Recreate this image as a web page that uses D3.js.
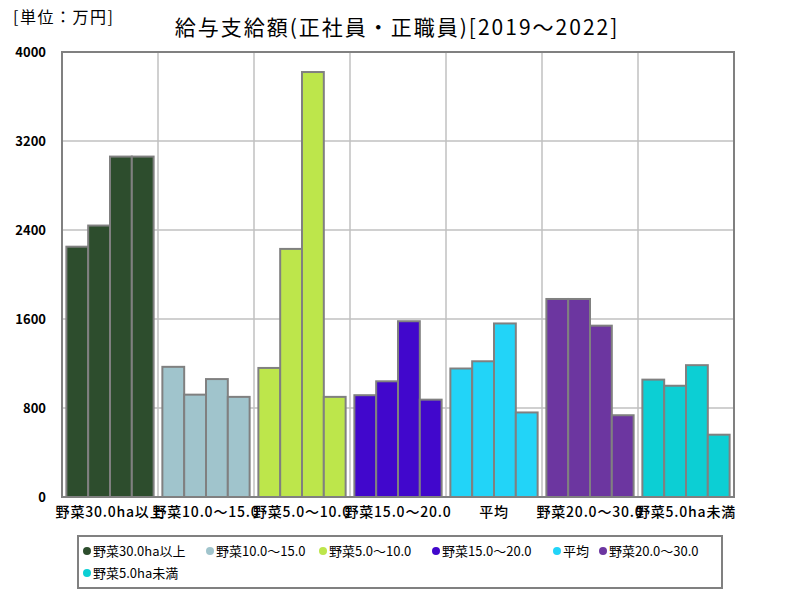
<!DOCTYPE html>
<html>
<head>
<meta charset="utf-8">
<script src="https://cdn.jsdelivr.net/npm/d3@7"></script>
<style>
body { margin: 0; background: #fff; }
text { font-family: "Noto Sans CJK JP", sans-serif; fill: #000; }
</style>
</head>
<body>
<svg id="chart" width="800" height="600"></svg>
<script>
(function() {
'use strict';

var categories = ['野菜30.0ha以上', '野菜10.0～15.0', '野菜5.0～10.0', '野菜15.0～20.0', '平均', '野菜20.0～30.0', '野菜5.0ha未満'];
var legendLabels = ['野菜30.0ha以上', '野菜10.0～15.0', '野菜5.0～10.0', '野菜15.0～20.0', '平均', '野菜20.0～30.0', '野菜5.0ha未満'];
var years = ['2019', '2020', '2021', '2022'];
var colors = ['#2d4d2d', '#a0c4cc', '#bde64b', '#4107cc', '#22d4f8', '#6c36a0', '#0ccfd4'];
var yTicks = [0, 800, 1600, 2400, 3200, 4000];

var v30over = [2250, 2440, 3060, 3060];
var v10to15 = [1170, 920, 1060, 900];
var v5to10 = [1160, 2230, 3820, 900];
var v15to20 = [915, 1040, 1580, 875];
var vAvg = [1155, 1220, 1560, 760];
var v20to30 = [1780, 1780, 1540, 735];
var v5under = [1055, 1000, 1185, 560];

var values = [v30over, v10to15, v5to10, v15to20, vAvg, v20to30, v5under];

var svg = d3.select('#chart');
var left = 62, right = 734, top = 52, bottom = 497;

var x = d3.scaleBand().domain(categories).range([left, right]);
var xi = d3.scaleBand().domain(years).range([0, x.bandwidth()]).paddingOuter(0.2);
var y = d3.scaleLinear().domain([0, 4000]).range([bottom, top]);

// gridlines
svg.append('g').selectAll('line.h')
    .data(yTicks.slice(1, -1)).enter().append('line')
    .attr('x1', left).attr('x2', right)
    .attr('y1', function (d) { return y(d); })
    .attr('y2', function (d) { return y(d); })
    .attr('stroke', '#c0c0c0').attr('stroke-width', 1.5);

svg.append('g').selectAll('line.v')
    .data(categories.slice(1)).enter().append('line')
    .attr('x1', function (d) { return x(d); })
    .attr('x2', function (d) { return x(d); })
    .attr('y1', top).attr('y2', bottom)
    .attr('stroke', '#c0c0c0').attr('stroke-width', 1.5);

// bars
var groups = svg.append('g').selectAll('g')
    .data(categories).enter().append('g')
    .attr('transform', function (d) { return 'translate(' + x(d) + ',0)'; });

groups.selectAll('rect')
    .data(function (d, i) {
        return values[i].map(function (v, j) { return { year: years[j], value: v, color: colors[i] }; });
    })
    .enter().append('rect')
    .attr('x', function (d) { return xi(d.year); })
    .attr('width', xi.bandwidth())
    .attr('y', function (d) { return y(d.value); })
    .attr('height', function (d) { return bottom - y(d.value); })
    .attr('fill', function (d) { return d.color; })
    .attr('stroke', '#808080').attr('stroke-width', 2);

// frame
svg.append('rect')
    .attr('x', left).attr('y', top)
    .attr('width', right - left).attr('height', bottom - top)
    .attr('fill', 'none').attr('stroke', '#808080').attr('stroke-width', 2);

// y axis
var yAxis = svg.append('g')
    .attr('transform', 'translate(' + left + ',0)')
    .call(d3.axisLeft(y).tickValues(yTicks).tickSize(0).tickPadding(16).tickFormat(d3.format('d')));
yAxis.select('.domain').remove();
yAxis.selectAll('text')
    .style('font-size', '13px').style('font-weight', 'bold')
    .attr('dy', '0.32em');

// x axis
var xAxis = svg.append('g')
    .attr('transform', 'translate(0,' + bottom + ')')
    .call(d3.axisBottom(x).tickSize(0).tickPadding(10));
xAxis.select('.domain').remove();
xAxis.selectAll('text')
    .style('font-size', '14px').style('font-weight', '500')
    .style('letter-spacing', '0.8px');

// titles
svg.append('text')
    .attr('x', 397).attr('y', 35)
    .attr('text-anchor', 'middle')
    .style('font-size', '21px')
    .style('letter-spacing', '2px')
    .text('給与支給額(正社員・正職員)[2019～2022]');

svg.append('text')
    .attr('x', 13).attr('y', 23)
    .style('font-size', '16px')
    .style('letter-spacing', '1.5px')
    .text('[単位：万円]');

// legend
svg.append('rect')
    .attr('x', 78).attr('y', 536)
    .attr('width', 644).attr('height', 52)
    .attr('fill', '#fff').attr('stroke', '#808080').attr('stroke-width', 2);

var legendPos = [
    [87, 551], [210, 551], [323, 551], [436, 551], [557, 551], [603, 551],
    [87, 573]
];

var items = svg.append('g').selectAll('g')
    .data(legendLabels).enter().append('g')
    .attr('transform', function (d, i) { return 'translate(' + legendPos[i][0] + ',' + legendPos[i][1] + ')'; });

items.append('circle')
    .attr('r', 4)
    .attr('fill', function (d, i) { return colors[i]; });

items.append('text')
    .attr('x', 6).attr('dy', '0.35em')
    .style('font-size', '13px')
    .text(function (d) { return d; });

})();
</script>
</body>
</html>
